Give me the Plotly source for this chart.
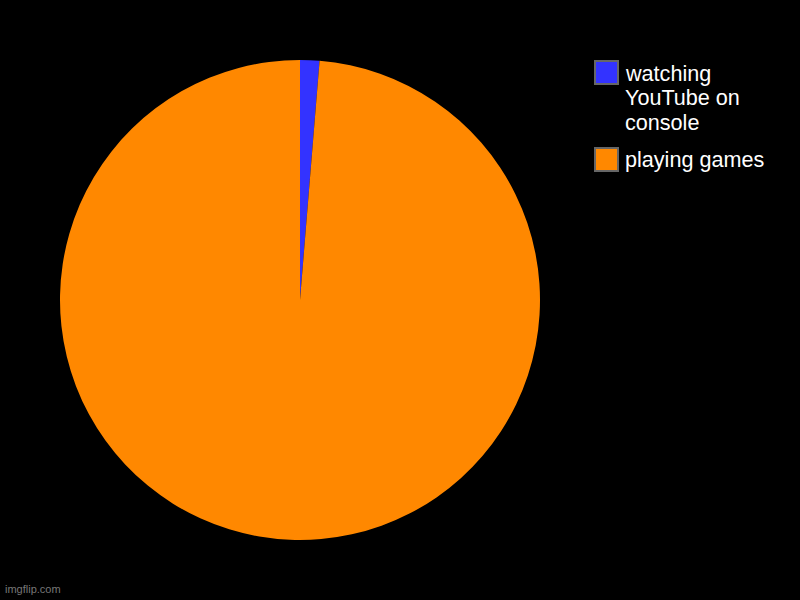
import plotly.graph_objects as go

# Slice data
labels = ["watching YouTube on console", "playing games"]
legend_lines = [["watching", "YouTube on", "console"], ["playing games"]]
values = [1.3, 98.7]
colors = ["#3333ff", "#ff8800"]

fig = go.Figure()

fig.add_trace(go.Pie(
    labels=labels,
    values=values,
    marker=dict(colors=colors, line=dict(width=0)),
    sort=False,
    direction="clockwise",
    rotation=0,
    textinfo="none",
    hoverinfo="label+percent",
    showlegend=False,
    domain=dict(x=[0.075, 0.675], y=[0.1, 0.9]),
))

# Hand-made legend so the boxes and text match the reference size
legend_tops = [61, 148]
for i, (lines, col) in enumerate(zip(legend_lines, colors)):
    top = legend_tops[i]
    fig.add_shape(
        type="rect", xref="paper", yref="paper",
        x0=595 / 800, x1=618 / 800,
        y0=1 - (top + 23) / 600, y1=1 - top / 600,
        fillcolor=col, line=dict(color="#666666", width=2),
    )
    for j, line in enumerate(lines):
        fig.add_annotation(
            x=623 / 800, y=1 - (top + 12 + 24.5 * j) / 600, xref="paper", yref="paper",
            text=line, showarrow=False, xanchor="left", yanchor="middle", align="left",
            font=dict(family="Liberation Sans, Arial, sans-serif", size=21.6, color="white"),
        )

# watermark
fig.add_annotation(
    x=3 / 800, y=3 / 600, xref="paper", yref="paper",
    text="imgflip.com", showarrow=False, xanchor="left", yanchor="bottom",
    font=dict(family="Liberation Sans, Arial, sans-serif", size=11, color="#777777"),
)

fig.update_layout(
    width=800,
    height=600,
    margin=dict(l=0, r=0, t=0, b=0),
    paper_bgcolor="black",
    plot_bgcolor="black",
)

fig.write_html(
    "out.html",
    config={"displayModeBar": False},
    post_script="document.body.style.margin='0';document.body.style.overflow='hidden';",
)
